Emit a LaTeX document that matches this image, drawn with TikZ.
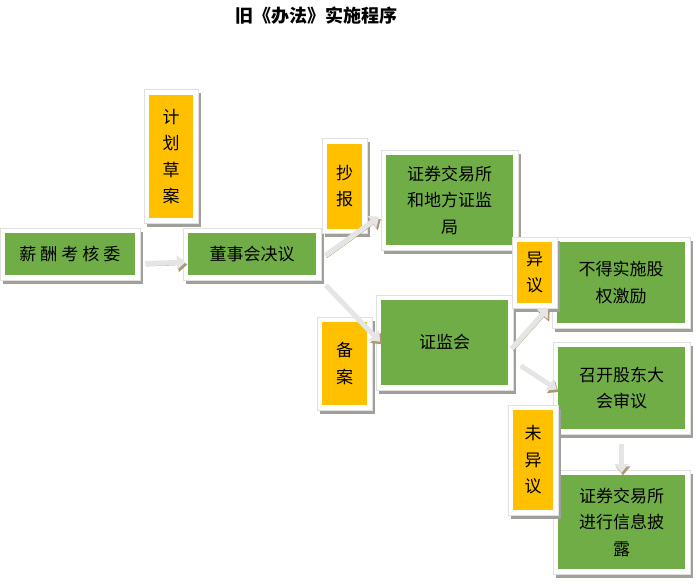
\documentclass[tikz,border=0pt]{standalone}
\usepackage{fontspec}
\newfontfamily\cjk{Noto Sans CJK SC}
\usetikzlibrary{arrows.meta}
\definecolor{mgreen}{RGB}{112, 173, 71}
\definecolor{morange}{RGB}{255, 192, 0}
\definecolor{mshade}{RGB}{160, 160, 155}
\definecolor{mtan}{RGB}{175, 150, 115}
\tikzset{framed/.style = {inner sep = 0, align = center,
                          font = \cjk\fontsize{17}{26.5}\selectfont,
                          preaction = {draw = mshade, fill = mshade, line width = 10pt,
                                       transform canvas = {shift = {(2.5pt, -3.5pt)}}},
                          preaction = {draw = black!12, line width = 11pt},
                          preaction = {draw = white, line width = 9pt}}}
\tikzset{gbox/.style = {framed, fill = mgreen}}
\tikzset{obox/.style = {framed, fill = morange}}
\tikzset{flow/.style = {line width = 5pt, draw = black!10,
                        -{Triangle[length = 9pt, width = 14pt]},
                        preaction = {draw = mtan, transform canvas = {shift = {(1.5pt, -2.5pt)}}}}}

\begin{document}
\begin{tikzpicture}[x = 1pt, y = -1pt]
  \useasboundingbox (0, 0) rectangle (700, 583);
  \node [font = \cjk\bfseries\fontsize{18}{22}\selectfont] (title) at (316, 16) {旧《办法》实施程序};

  \node [gbox, minimum width = 130pt, minimum height = 42pt] (xc) at (70, 254) {薪\kern4pt 酬\kern4pt 考\kern4pt 核\kern4pt 委};
  \node [gbox, minimum width = 128pt, minimum height = 42pt] (dsh) at (252, 254) {董事会决议};
  \node [gbox, minimum width = 127pt, minimum height = 90pt] (jys) at (449.5, 200) {证券交易所\\和地方证监\\局};
  \node [gbox, minimum width = 127pt, minimum height = 85pt] (zjh) at (444.5, 342.5) {证监会};
  \node [gbox, minimum width = 128pt, minimum height = 81pt] (bd) at (621, 282.5) {不得实施股\\权激励};
  \node [gbox, minimum width = 127pt, minimum height = 82pt] (zk) at (621.5, 388) {召开股东大\\会审议};
  \node [gbox, minimum width = 127pt, minimum height = 94pt] (pl) at (621.5, 522) {证券交易所\\进行信息披\\露};

  \node [obox, minimum width = 44pt, minimum height = 123pt] (jh) at (171, 156.5) {计\\划\\草\\案};
  \node [obox, minimum width = 35pt, minimum height = 85pt] (cb) at (344.5, 186) {抄\\报};
  \node [obox, minimum width = 45pt, minimum height = 83pt] (ba) at (344.5, 363.5) {备\\案};
  \node [obox, minimum width = 35pt, minimum height = 61pt] (yy) at (534.5, 272.5) {异\\议};
  \node [obox, minimum width = 40pt, minimum height = 100pt] (wyy) at (533, 460) {未\\异\\议};

  \draw [flow, shorten <= 10pt, shorten >= 2pt] ([yshift = -10pt]xc.east) -- ([yshift = -8pt]dsh.west);
  \draw [flow, shorten <= 11pt, shorten >= 8pt] ([yshift = -8pt]dsh.east) -- ([yshift = -12pt]jys.west);
  \draw [flow, shorten <= 14pt, shorten >= 1pt] (dsh.south east) -- (zjh.west);
  \draw [flow, shorten <= 5pt, shorten >= 6pt] ([yshift = -10pt]zjh.east) -- (yy.south east);
  \draw [flow, shorten <= 15pt, shorten >= 1pt] ([yshift = -15pt]zjh.east) -- ([yshift = -2pt]zk.west);
  \draw [flow, shorten <= 15pt, shorten >= 2pt] (zk.south) -- (pl.north);
\end{tikzpicture}
\end{document}
